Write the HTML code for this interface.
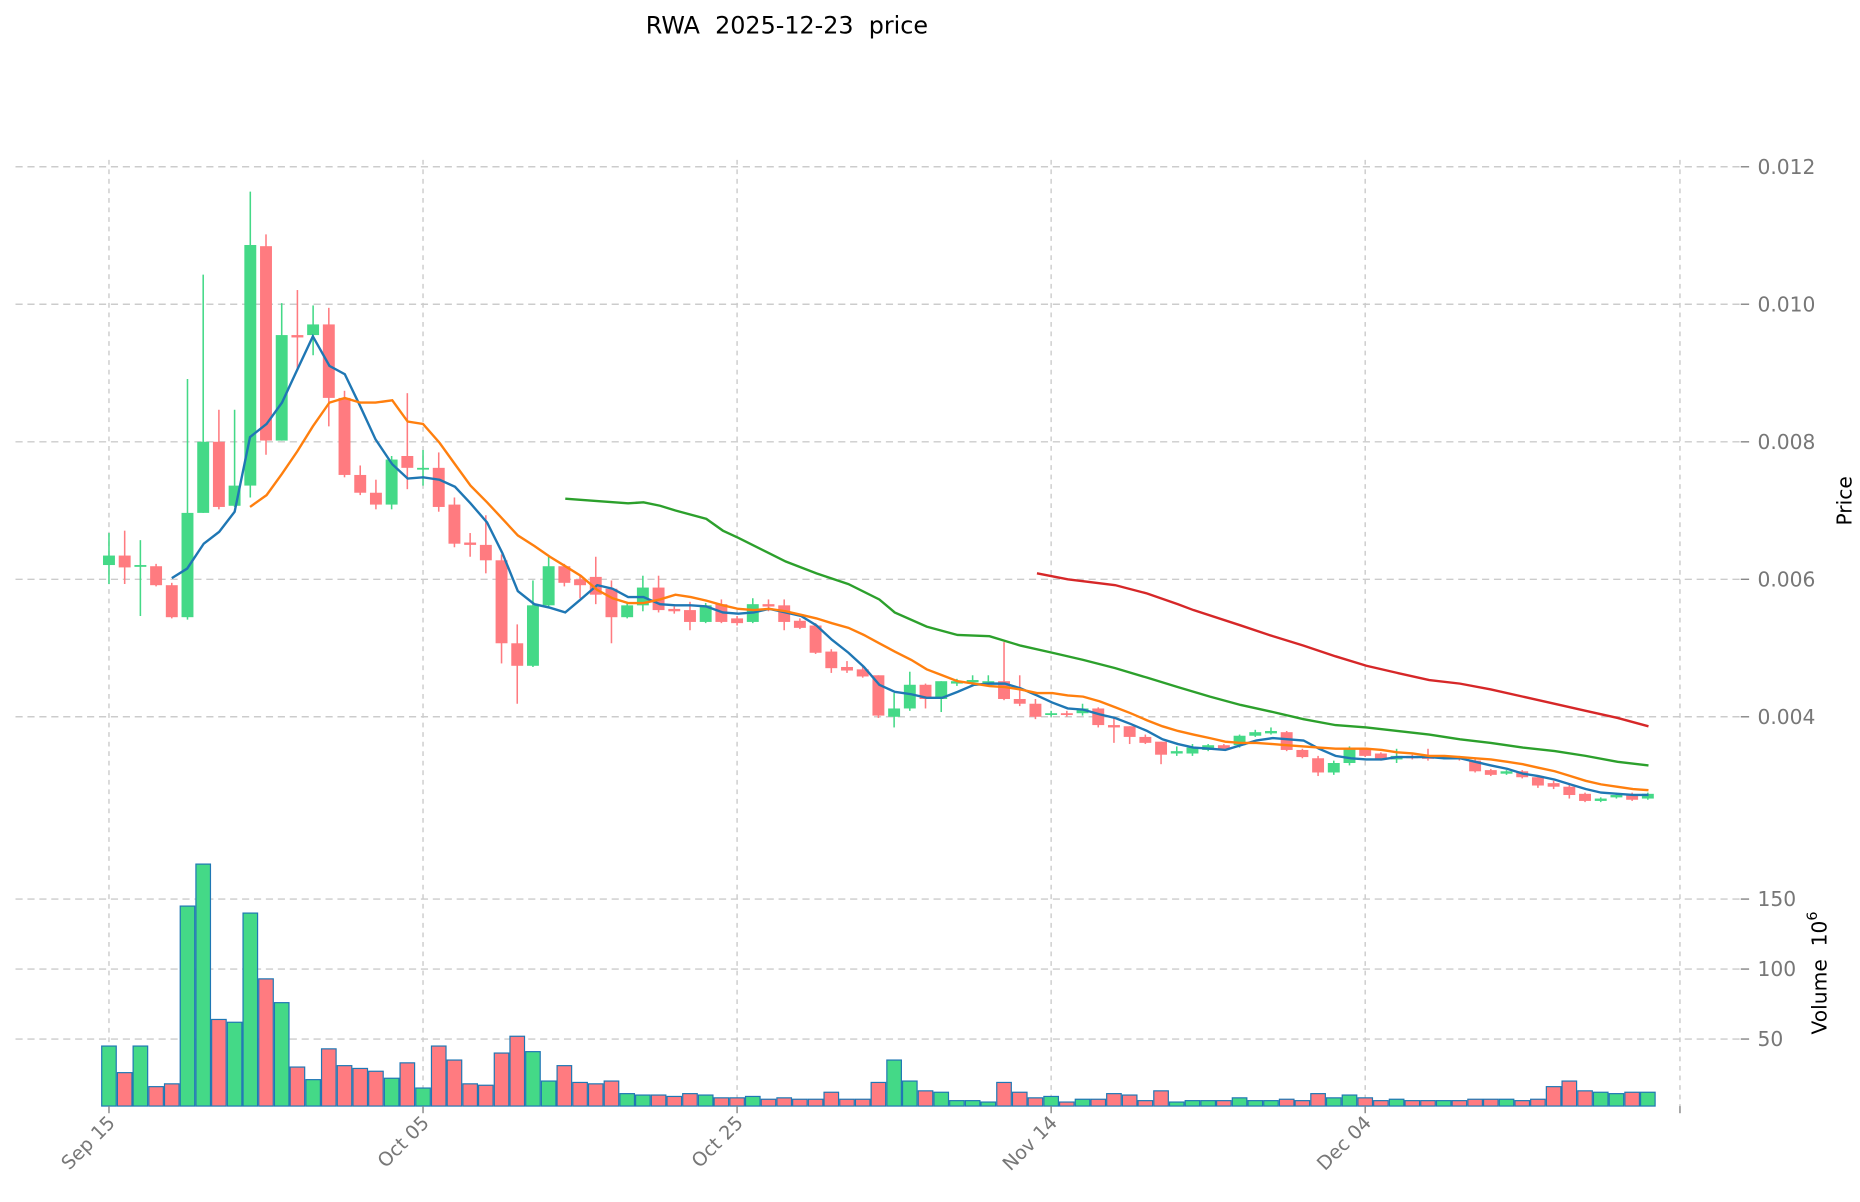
<!DOCTYPE html>
<html><head><meta charset="utf-8"><style>
html,body{margin:0;padding:0;background:#fff;}
svg{display:block;font-family:"DejaVu Sans","Liberation Sans",sans-serif;}
</style></head><body>
<svg id="c" width="1860" height="1202" viewBox="0 0 1560 1008" xmlns="http://www.w3.org/2000/svg">
<text x="660" y="28" font-size="20" text-anchor="middle" fill="#000" xml:space="preserve">RWA  2025-12-23  price</text>
<g id="grid"></g><g id="vol"></g><g id="cand"></g><g id="ma"></g><g id="lab"></g>
<text transform="translate(1553,420) rotate(-90)" font-size="17" text-anchor="middle">Price</text>
<text transform="translate(1532,816) rotate(-90)" font-size="17" text-anchor="middle" xml:space="preserve">Volume  10<tspan dy="-8" font-size="12">6</tspan></text>
</svg>
<script>
const NS="http://www.w3.org/2000/svg";
function el(p,t,a,txt){const e=document.createElementNS(NS,t);for(const k in a)e.setAttribute(k,a[k]);if(txt!=null)e.textContent=txt;document.getElementById(p).appendChild(e);return e;}
const X=x=>91.4+(x-91)*0.99396;
const Y=y=>139.8+(y-141)*0.99418;
const XI=i=>91.4+13.17*i;
const VB=927.6;
const VY=v=>930.1-v*1.174;
// grid
[0.012,0.010,0.008,0.006,0.004].forEach((p,k)=>{});
const PT=[[139.8,'0.012'],[255.1,'0.010'],[370.5,'0.008'],[485.8,'0.006'],[601.1,'0.004'],[VY(150),'150'],[VY(100),'100'],[VY(50),'50']];
PT.forEach(([y,t])=>{
 el('grid','line',{x1:13,x2:1460,y1:y,y2:y,stroke:'#ccc','stroke-dasharray':'6,4','stroke-width':1.2});
 el('lab','line',{x1:1460,x2:1467,y1:y,y2:y,stroke:'#888','stroke-width':1.2});
 el('lab','text',{x:1474,y:y+6,'font-size':17,fill:'#777'},t);});
[[0,'Sep 15'],[20,'Oct 05'],[40,'Oct 25'],[60,'Nov 14'],[80,'Dec 04']].forEach(([i,t])=>{
 const x=XI(i);
 el('grid','line',{x1:x,x2:x,y1:134,y2:VB,stroke:'#ccc','stroke-dasharray':'4,4','stroke-width':1.2});
 el('lab','line',{x1:x,x2:x,y1:VB,y2:VB+6,stroke:'#888','stroke-width':1.2});
 el('lab','text',{transform:`translate(${x+6},${VB+15}) rotate(-45)`,'font-size':16,fill:'#777','text-anchor':'end'},t);});
el('grid','line',{x1:1409,x2:1409,y1:134,y2:VB,stroke:'#ccc','stroke-dasharray':'4,4','stroke-width':1.2});
el('lab','line',{x1:1409,x2:1409,y1:VB,y2:VB+6,stroke:'#888','stroke-width':1.2});
// candles [oy,cy,hy,ly,vol]
const D=[[477,469,450,493,45],[469,479,448,493,26],[478,477,456,520,45],[478,494,476,495,16],[494,521,492,522,18],[521,433,320,523,145],[433,373,232,433,175],[373,428,346,430,64],[427,410,346,428,62],[410,207,162,420,140],[208,372,198,384,93],[372,283,256,372,76],[283,285,245,313,30],[283,274,258,300,21],[274,336,260,360,43],[336,401,330,403,31],[401,416,393,418,29],[416,426,405,430,27],[426,388,385,430,22],[385,395,332,413,33],[396,395,380,410,15],[395,428,382,432,45],[426,459,420,462,35],[458,460,450,470,18],[460,473,435,484,17],[473,543,468,560,40],[543,562,527,594,52],[562,511,490,563,41],[511,478,470,512,20],[478,492,476,495,31],[489,494,485,505,19],[487,502,470,510,18],[497,521,490,543,20],[521,511,509,522,11],[511,496,486,516,10],[496,515,486,517,10],[514,516,512,518,9],[515,525,508,532,11],[525,511,509,526,10],[510,525,506,526,8],[522,526,520,528,8],[525,510,505,526,9],[510,512,506,516,7],[511,525,506,532,8],[524,530,522,531,7],[528,551,526,552,7],[550,564,548,568,12],[563,566,558,568,7],[565,571,563,572,7],[570,604,570,606,19],[605,598,585,614,35],[598,578,567,600,20],[578,590,577,598,13],[590,575,575,601,12],[577,575,573,579,6],[576,574,570,578,6],[576,575,570,579,5],[575,590,542,591,19],[590,594,570,596,12],[594,605,590,607,8],[603,602,600,605,9],[602,603,600,605,5],[602,598,594,604,7],[598,612,597,614,7],[612,614,605,627,11],[613,622,613,628,10],[622,627,620,628,6],[626,637,626,645,13],[636,634,630,638,5],[636,631,628,638,6],[633,629,628,634,6],[629,632,628,633,6],[629,621,620,631,8],[621,618,616,622,6],[619,617,614,620,6],[618,633,617,634,7],[633,639,632,640,6],[640,652,638,655,11],[652,644,642,654,8],[644,632,630,646,10],[632,638,631,639,8],[636,641,635,642,6],[641,638,632,644,7],[638,640,637,641,6],[639,640,632,642,6],[640,639,638,641,6],[639,641,638,642,6],[642,651,641,652,7],[650,654,649,655,7],[653,651,650,654,7],[651,656,650,657,6],[656,663,655,665,7],[661,664,659,666,16],[664,671,661,674,20],[670,676,669,677,13],[676,674,673,677,12],[673,671,670,674,11],[671,675,669,676,12],[674,670,669,675,12]];
const G='#44d987',R='#ff7b80';
D.forEach((d,i)=>{const x=XI(i);const up=d[1]<d[0];const c=up?G:R;
 el('cand','line',{x1:x,x2:x,y1:Y(d[2]),y2:Y(d[3]),stroke:c,'stroke-width':1.3});
 const t=Y(Math.min(d[0],d[1])),h=Math.max(Math.abs(d[0]-d[1])*0.994,1.5);
 el('cand','rect',{x:x-5,y:t,width:10,height:h,fill:c});
 const top=VY(d[4]);
 el('vol','rect',{x:x-6.1,y:top,width:12.2,height:VB-top,fill:c,stroke:'#1f77b4','stroke-width':1});});
function ln(pts,col){el('ma','polyline',{points:pts.map(p=>X(p[0]).toFixed(1)+','+Y(p[1]).toFixed(1)).join(' '),fill:'none',stroke:col,'stroke-width':2});}
ln([[144,488],[157,480],[171,459],[184,449],[197,432],[210,369],[224,358],[237,340],[250,312],[263,284],[277,309],[290,316],[303,343],[316,371],[330,392],[343,404],[356,403],[370,405],[383,411],[396,425],[410,441],[423,467],[436,499],[450,510],[463,513],[476,517],[489,506],[503,494],[516,497],[529,504],[542,504],[556,510],[569,511],[582,511],[595,512],[609,517],[622,518],[635,517],[648,514],[662,517],[675,520],[688,528],[701,540],[715,551],[728,563],[741,578],[754,584],[768,586],[781,589],[794,589],[807,584],[821,578],[834,577],[847,577],[860,581],[874,587],[887,593],[900,598],[913,599],[927,603],[940,606],[953,611],[967,617],[980,624],[993,628],[1006,631],[1020,632],[1033,633],[1046,629],[1059,625],[1073,623],[1086,624],[1099,625],[1112,632],[1126,638],[1139,640],[1152,641],[1165,641],[1178,639],[1191,639],[1205,639],[1218,640],[1231,640],[1244,643],[1257,646],[1271,649],[1284,653],[1297,655],[1311,658],[1324,662],[1337,666],[1350,669],[1364,670],[1377,671],[1390,671]],'#1f77b4');
ln([[210,428],[224,418],[237,400],[250,381],[263,360],[277,340],[290,336],[303,340],[316,340],[330,338],[343,356],[356,358],[370,374],[383,392],[396,410],[410,424],[423,438],[436,452],[450,461],[463,470],[476,478],[489,486],[503,498],[516,505],[529,509],[542,509],[556,506],[569,502],[582,504],[595,507],[609,511],[622,514],[635,515],[648,514],[662,516],[675,519],[688,522],[701,526],[715,530],[728,536],[741,543],[754,550],[768,557],[781,565],[794,570],[807,575],[821,577],[834,579],[847,580],[860,582],[874,585],[887,585],[900,587],[913,588],[927,592],[940,597],[953,602],[967,608],[980,613],[993,617],[1006,620],[1020,623],[1033,626],[1046,627],[1059,627],[1073,628],[1086,629],[1099,630],[1112,631],[1126,632],[1139,632],[1152,632],[1165,633],[1178,635],[1191,636],[1205,638],[1218,638],[1231,639],[1244,640],[1257,641],[1271,643],[1284,645],[1297,648],[1311,651],[1324,655],[1337,659],[1350,662],[1364,664],[1377,666],[1390,667]],'#ff7f0e');
ln([[476,421],[503,423],[529,425],[542,424],[556,427],[569,431],[595,438],[609,448],[622,454],[648,467],[662,474],[688,484],[715,493],[741,506],[754,517],[781,529],[807,536],[834,537],[860,545],[887,551],[913,557],[940,564],[967,572],[993,580],[1020,588],[1046,595],[1073,601],[1099,607],[1126,612],[1152,614],[1178,617],[1205,620],[1231,624],[1257,627],[1284,631],[1311,634],[1337,638],[1364,643],[1390,646]],'#2ca02c');
ln([[874,484],[900,489],[940,494],[967,501],[993,510],[1006,515],[1046,528],[1073,537],[1099,545],[1126,554],[1152,562],[1178,568],[1205,574],[1231,577],[1257,582],[1284,588],[1311,594],[1337,600],[1364,606],[1390,613]],'#d62728');
</script>
</body></html>
